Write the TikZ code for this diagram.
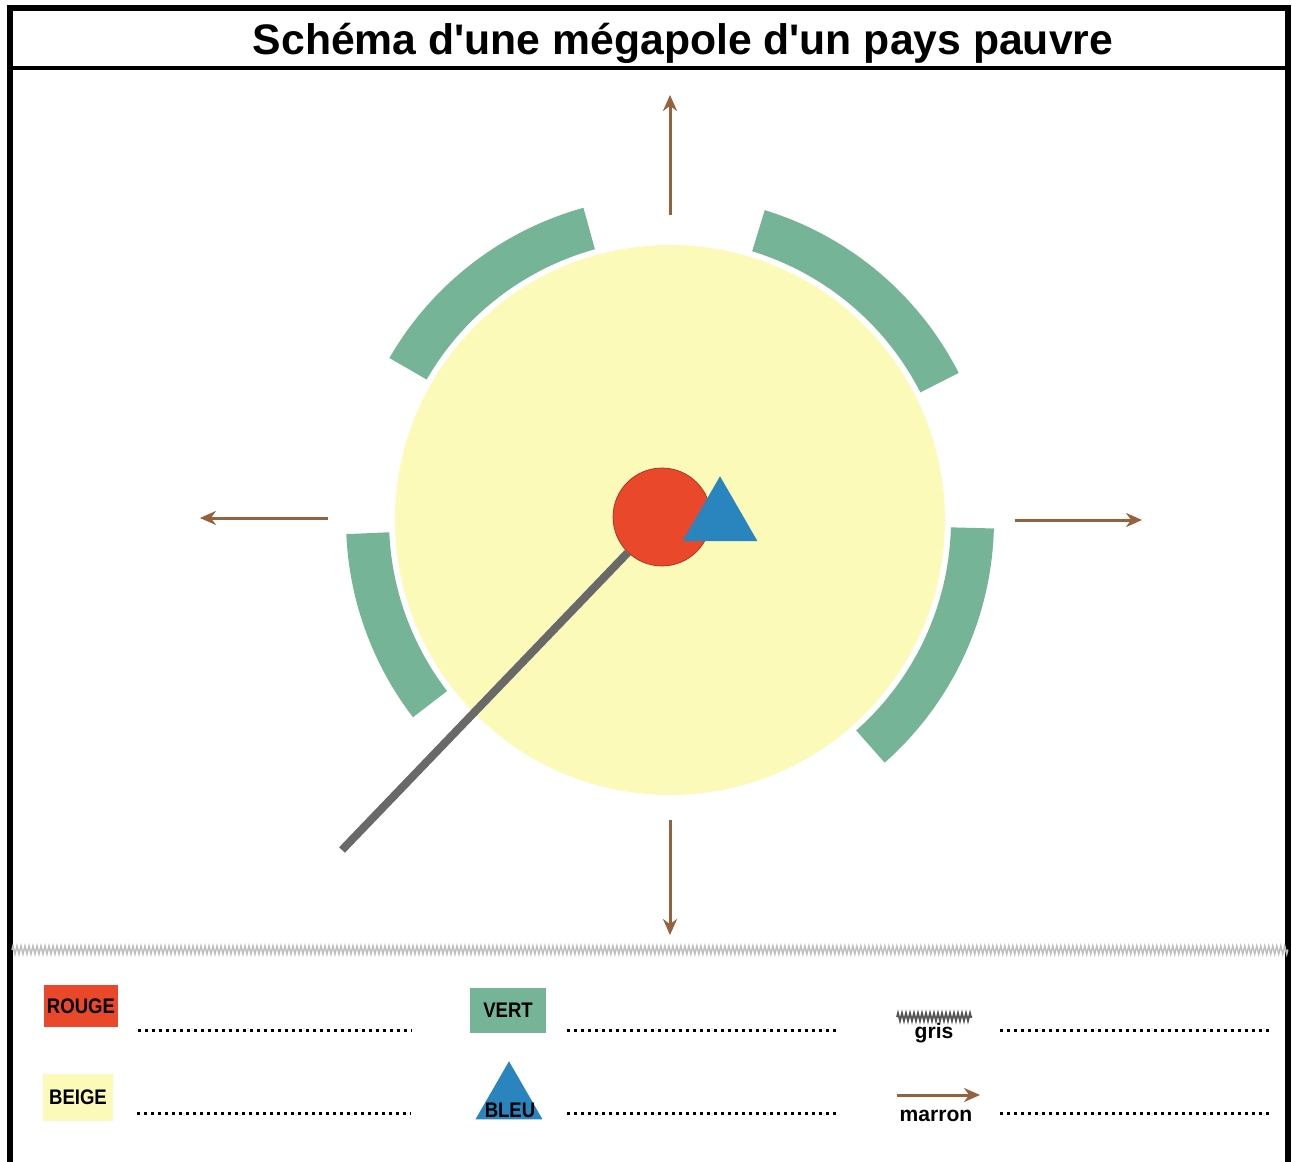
\documentclass[tikz,border=0pt]{standalone}
\usepackage{fontspec}
\setmainfont{Liberation Sans}
\newfontfamily\narrowfont[FakeStretch=0.88]{Liberation Sans}
\usetikzlibrary{arrows.meta,shapes.geometric,decorations.pathmorphing,calc}
\definecolor{colred}{RGB}{234,72,42}
\definecolor{colbeige}{RGB}{252,250,184}
\definecolor{colgreen}{RGB}{118,180,152}
\definecolor{colblue}{RGB}{42,132,190}
\definecolor{colbrown}{RGB}{150,98,62}
\definecolor{colgrey}{RGB}{105,105,105}
\tikzstyle{pointbeige}=[circle, fill=colbeige, inner sep=0pt, minimum size=11cm]
\tikzstyle{pointred}=[circle, fill=colred, draw=colred!70!black, thin, inner sep=0pt, minimum size=1.96cm]
\tikzstyle{pointblue}=[regular polygon, regular polygon sides=3, fill=colblue, inner sep=0pt]
\tikzstyle{bandgreen}=[fill=colgreen]
\tikzstyle{arrowbrown}=[draw=colbrown, line width=0.06cm, -{Stealth[length=3.2mm, width=2.8mm]}]
\tikzstyle{greybar}=[draw=colgrey, line width=0.16cm]
\tikzstyle{greyzig}=[draw=colgrey!80!black, line width=0.035cm, decorate, decoration={zigzag, amplitude=0.08cm, segment length=0.08cm}]
\tikzstyle{separator}=[draw=gray!50, line width=0.03cm, decorate, decoration={zigzag, amplitude=0.08cm, segment length=0.08cm}]
\tikzstyle{dots}=[draw=black, line width=0.06cm, dash pattern=on 0.06cm off 0.08cm]
\tikzstyle{keybox}=[rectangle, inner sep=0pt, font=\narrowfont\bfseries\fontsize{12}{14}\selectfont]
\tikzstyle{keytext}=[inner sep=0pt, font=\bfseries\fontsize{12}{14}\selectfont]

\begin{document}
\begin{tikzpicture}[x=0.02cm, y=-0.02cm]
	\useasboundingbox (0,0) rectangle (1292,1162);
	% frame and title
	\begin{scope}
		\draw[line width=0.12cm] (10,1162) -- (10,8) -- (1288,8) -- (1288,1162);
		\draw[line width=0.08cm] (10,68) -- (1288,68);
		\node (title) at (683,55)[anchor=base, inner sep=0pt, font=\bfseries\fontsize{24.3}{28}\selectfont] {Schéma d\textquotesingle une mégapole d\textquotesingle un pays pauvre};
	\end{scope}
	% city
	\begin{scope}
		\node (beige) at (670,520)[pointbeige] {};
		\foreach \a/\b in {-105.5/-150, -27/-73, -182.5/-217.5, 48.5/1.5}
			\fill[bandgreen] ($(beige.center)+(\a:281)$) arc[start angle=\a, end angle=\b, radius=281]
				-- ($(beige.center)+(\b:324)$) arc[start angle=\b, end angle=\a, radius=324] -- cycle;
		\node (red) at (662,517)[pointred] {};
		\coordinate (road) at (342,850);
		\path [greybar] (red) edge (road);
		\node (blue) at (720,519.5)[pointblue, minimum size=1.73cm] {};
	\end{scope}
	% growth arrows
	\begin{scope}
		\coordinate (n0) at (670,215);
		\coordinate (n1) at (670,95);
		\coordinate (s0) at (670,820);
		\coordinate (s1) at (670,935);
		\coordinate (w0) at (328,518);
		\coordinate (w1) at (200,518);
		\coordinate (e0) at (1015,520);
		\coordinate (e1) at (1142,520);
		\draw [arrowbrown] (n0) -- (n1);
		\draw [arrowbrown] (s0) -- (s1);
		\draw [arrowbrown] (w0) -- (w1);
		\draw [arrowbrown] (e0) -- (e1);
	\end{scope}
	% legend
	\begin{scope}
		\draw[separator] (12,950) -- (1288,950);
		\node (keyred) at (81,1006)[keybox, fill=colred, minimum width=1.48cm, minimum height=0.84cm] {ROUGE};
		\node (keybeige) at (78,1097)[keybox, fill=colbeige, minimum width=1.4cm, minimum height=0.94cm] {BEIGE};
		\node (keygreen) at (508,1010)[keybox, fill=colgreen, minimum width=1.52cm, minimum height=0.9cm] {VERT};
		\node (keyblue) at (509,1100)[pointblue, minimum size=1.55cm] {};
		\node (keybluetext) at (510,1110)[keybox] {BLEU};
		\coordinate (g0) at (897,1017);
		\coordinate (g1) at (972,1017);
		\draw[greyzig] (g0) -- (g1);
		\node (keygrey) at (934,1038)[keytext, anchor=base] {gris};
		\coordinate (m0) at (897,1095);
		\coordinate (m1) at (980,1095);
		\draw [arrowbrown] (m0) -- (m1);
		\node (keybrown) at (936,1121)[keytext, anchor=base] {marron};
		\foreach \xa/\xb/\y in {138/412/1030, 567/838/1030, 1000/1272/1030, 137/410/1113, 567/838/1113, 1000/1272/1113}
			\draw[dots] (\xa,\y) -- (\xb,\y);
	\end{scope}
\end{tikzpicture}
\end{document}
